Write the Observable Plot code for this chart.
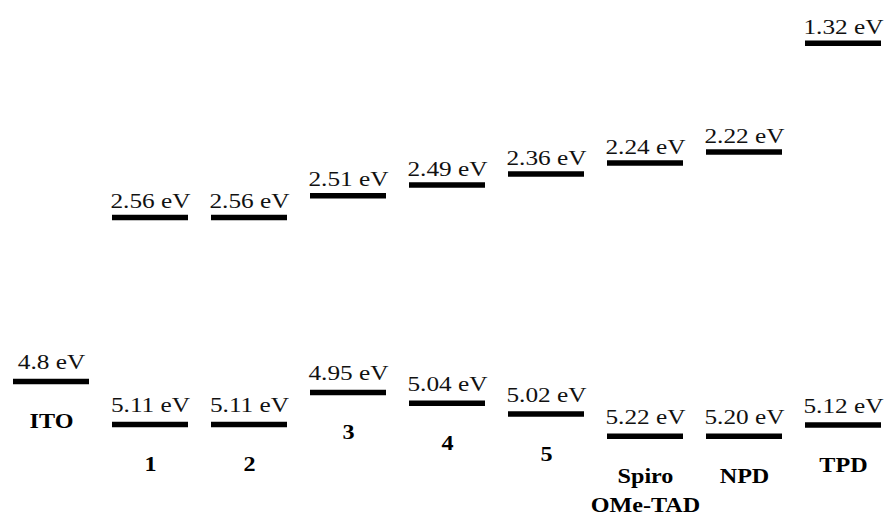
<!DOCTYPE html>
<html>
<head>
<meta charset="utf-8">
<script src="https://cdn.jsdelivr.net/npm/d3@7"></script>
<script src="https://cdn.jsdelivr.net/npm/@observablehq/plot@0.6"></script>
<style>
  html, body { margin: 0; padding: 0; background: #fff; }
  #chart svg { display: block; }
</style>
</head>
<body>
<div id="chart"></div>
<script>
// Materials (columns of the energy-level diagram)
const materials = ["ITO", "1", "2", "3", "4", "5", "Spiro\nOMe-TAD", "NPD", "TPD"];
// Printed energy values (eV)
const homoLabel = ["4.8", "5.11", "5.11", "4.95", "5.04", "5.02", "5.22", "5.20", "5.12"];
const lumoLabel = [null, "2.56", "2.56", "2.51", "2.49", "2.36", "2.24", "2.22", "1.32"];
// Level of each bar as drawn in the schematic (not to scale)
const homoLevel = [3.81, 4.24, 4.24, 3.92, 4.027, 4.135, 4.358, 4.358, 4.245];
const lumoLevel = [null, 2.17, 2.17, 1.952, 1.845, 1.735, 1.625, 1.515, 0.428];

const rows = materials.map((m, i) => ({
  material: m,
  homo: homoLevel[i],
  lumo: lumoLevel[i],
  homoText: homoLabel[i] + " eV",
  lumoText: lumoLabel[i] == null ? null : lumoLabel[i] + " eV"
}));
const lumoRows = rows.filter(d => d.lumo != null);

const chart = Plot.plot({
  width: 893,
  height: 515,
  marginTop: 0,
  marginBottom: 0,
  marginLeft: 10,
  marginRight: 8,
  x: { domain: materials, paddingInner: 0.228, paddingOuter: 0, axis: null },
  y: { domain: [0, 5.15], range: [0, 515], axis: null },
  style: { background: "#fff", fontFamily: "'Liberation Serif', 'Times New Roman', serif" },
  marks: [
    Plot.tickY(rows, { x: "material", y: "homo", stroke: "#000", strokeWidth: 5.5 }),
    Plot.tickY(lumoRows, { x: "material", y: "lumo", stroke: "#000", strokeWidth: 5.5 }),
    Plot.text(rows, { x: "material", y: "homo", text: "homoText", lineAnchor: "bottom", dy: -12.5, fontSize: 22, fill: "#111" }),
    Plot.text(lumoRows, { x: "material", y: "lumo", text: "lumoText", lineAnchor: "bottom", dy: -9.5, fontSize: 22, fill: "#111" }),
    Plot.text(rows, { x: "material", y: "homo", text: "material", lineAnchor: "top", dy: 26, fontSize: 21, fontWeight: "bold", lineHeight: 1.38, fill: "#000" })
  ]
});

// The reference type is slightly wide: stretch each label horizontally about its anchor
const sx = 1.15;
chart.querySelectorAll("text").forEach(t => {
  const x = parseFloat(t.getAttribute("x")) || 0;
  const T = t.getAttribute("transform") || "";
  t.setAttribute("transform", `${T} translate(${x},0) scale(${sx},1) translate(${-x},0)`);
});

document.getElementById("chart").appendChild(chart);
</script>
</body>
</html>
